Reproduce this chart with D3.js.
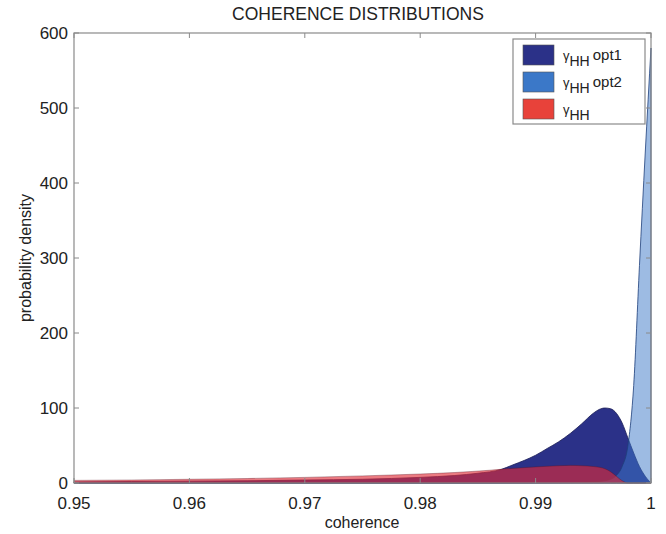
<!DOCTYPE html>
<html>
<head>
<meta charset="utf-8">
<script src="https://cdn.jsdelivr.net/npm/d3@7"></script>
<style>
  html, body { margin: 0; padding: 0; background: #fff; }
  svg { display: block; font-family: "Liberation Sans", Arial, Helvetica, sans-serif; }
</style>
</head>
<body>
<svg id="chart" width="666" height="534"></svg>
<script>
// ---- data ----
const opt1X = [0.95,0.955,0.96,0.965,0.97,0.975,0.98,0.983,0.985,0.987,0.988,0.989,0.990,0.991,0.992,0.993,0.994,0.995,0.9955,0.996,0.9965,0.997,0.9975,0.998,0.9985,0.999,0.9995,1.0];
const opt1Y = [1.5,2,2.5,3,4,5,7.5,10,13,18,24,30,37,46,55,66,79,93,98,100,99,93,80,60,40,22,9,0];

const opt2X = [0.95,0.985,0.99,0.993,0.995,0.996,0.9965,0.997,0.9975,0.998,0.9985,0.999,0.9995,1.0];
const opt2Y = [0,0,0.2,0.5,1.5,3,5,10,22,50,130,290,440,580];

const hhX = [0.95,0.955,0.96,0.965,0.97,0.975,0.98,0.983,0.986,0.988,0.99,0.992,0.993,0.994,0.995,0.996,0.9965,0.997,0.9975,0.998,1.0];
const hhY = [3.5,4,5,6,7.5,9.5,12,14,17,19.5,21.5,23,23.5,23,22,19,15,9,3,0,0];

const xTicks = [0.95,0.96,0.97,0.98,0.99,1];
const xTickLabels = ["0.95","0.96","0.97","0.98","0.99","1"];
const yTicks = [0,100,200,300,400,500,600];

const seriesNames = ["opt1","opt2",""];
const legendColors = ["#2b3188","#3b78c8","#e8423a"];

// ---- layout ----
const svg = d3.select("#chart");
const L = 74, R = 651, T = 33, B = 483;
const x = d3.scaleLinear().domain([0.95, 1]).range([L, R]);
const y = d3.scaleLinear().domain([0, 600]).range([B, T]);

const area = d3.area()
  .x(d => x(d[0]))
  .y0(y(0))
  .y1(d => y(d[1]))
  .curve(d3.curveMonotoneX);

const zip = (a, b) => a.map((v, i) => [v, b[i]]);

const g = svg.append("g");
g.append("path").datum(zip(opt1X, opt1Y)).attr("d", area)
  .attr("fill", "#2b3188").attr("stroke", "#1a1d55").attr("stroke-width", 0.8);
g.append("path").datum(zip(opt2X, opt2Y)).attr("d", area)
  .attr("fill", "#3b78c8").attr("fill-opacity", 0.5)
  .attr("stroke", "#1e3f7a").attr("stroke-width", 0.8);
g.append("path").datum(zip(hhX, hhY)).attr("d", area)
  .attr("fill", "#e02a36").attr("fill-opacity", 0.62)
  .attr("stroke", "#5a1020").attr("stroke-width", 0.6).attr("stroke-opacity", 0.6);

// ---- axes box ----
const axisColor = "#8a8a8a";
svg.append("rect").attr("x", L).attr("y", T).attr("width", R - L).attr("height", B - T)
  .attr("fill", "none").attr("stroke", axisColor).attr("stroke-width", 1.2);

const tl = 5;
const fs = 17;
const axG = svg.append("g");
xTicks.forEach((t, i) => {
  axG.append("line").attr("x1", x(t)).attr("x2", x(t)).attr("y1", B).attr("y2", B - tl).attr("stroke", axisColor);
  axG.append("line").attr("x1", x(t)).attr("x2", x(t)).attr("y1", T).attr("y2", T + tl).attr("stroke", axisColor);
  axG.append("text").attr("x", x(t)).attr("y", 509).attr("text-anchor", "middle")
    .attr("font-size", fs).attr("fill", "#222").text(xTickLabels[i]);
});
yTicks.forEach(t => {
  axG.append("line").attr("x1", L).attr("x2", L + tl).attr("y1", y(t)).attr("y2", y(t)).attr("stroke", axisColor);
  axG.append("line").attr("x1", R).attr("x2", R - tl).attr("y1", y(t)).attr("y2", y(t)).attr("stroke", axisColor);
  axG.append("text").attr("x", 68).attr("y", y(t)).attr("dy", "0.36em").attr("text-anchor", "end")
    .attr("font-size", fs).attr("fill", "#222").text(t);
});

// ---- titles ----
svg.append("text").attr("x", 358).attr("y", 20).attr("text-anchor", "middle")
  .attr("font-size", 17.5).attr("fill", "#222").text("COHERENCE DISTRIBUTIONS");
svg.append("text").attr("x", 362).attr("y", 528).attr("text-anchor", "middle")
  .attr("font-size", 16).attr("fill", "#222").text("coherence");
svg.append("text").attr("transform", `translate(31,${(T + B) / 2}) rotate(-90)`).attr("text-anchor", "middle")
  .attr("font-size", 16).attr("fill", "#222").text("probability density");

// ---- legend ----
const lg = svg.append("g");
lg.append("rect").attr("x", 513).attr("y", 39).attr("width", 132).attr("height", 85)
  .attr("fill", "#fff").attr("stroke", axisColor).attr("stroke-width", 1.2);
seriesNames.forEach((name, i) => {
  const yy = 45 + i * 27;
  lg.append("rect").attr("x", 523).attr("y", yy).attr("width", 31).attr("height", 20)
    .attr("fill", legendColors[i]).attr("stroke", "#555").attr("stroke-width", 0.6);
  const t = lg.append("text").attr("x", 563).attr("y", yy + 15).attr("font-size", 15).attr("fill", "#222");
  t.append("tspan").attr("font-size", 13).text("γ");
  t.append("tspan").attr("dy", 6).attr("font-size", 14).text("HH");
  if (name) t.append("tspan").attr("dy", -6).attr("dx", 3).attr("font-size", 15).text(name);
});
</script>
</body>
</html>
